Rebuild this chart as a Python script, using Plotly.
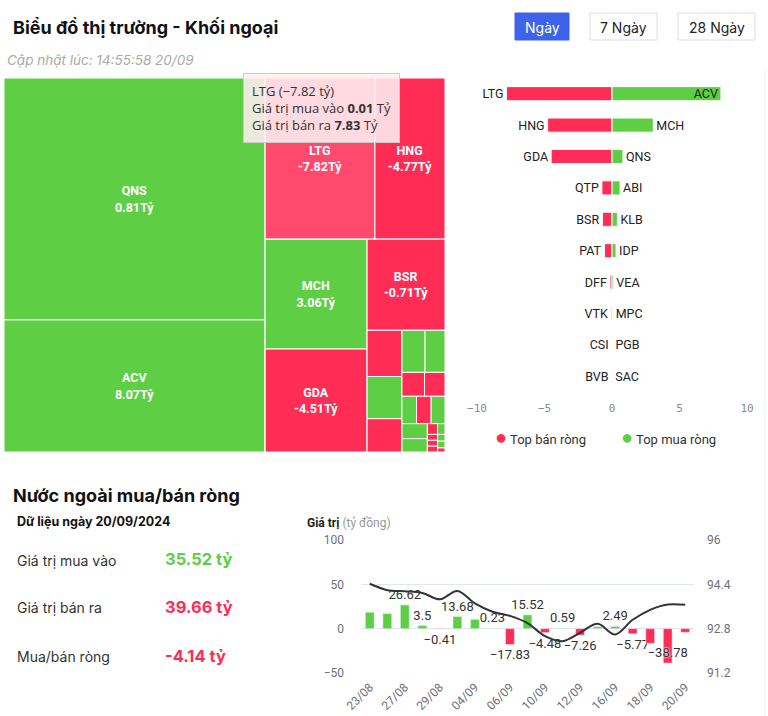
import plotly.graph_objects as go

W, H = 768, 716
GREEN = "#5ECF44"
RED = "#FF2D55"
RED_HOVER = "#FF4A6E"
TXT = "#222222"
GRID = "#E0E6F1"
AXIS_TXT = "#6E7079"
UI_FONT = "Inter"

def px(x):
    return x / W

def py(y):
    return 1 - y / H

# ---------------- Treemap data (net values in tỷ, sizes = tile weight) ----------------
tm_ids = ["QNS", "ACV", "G1", "LTG", "HNG", "G2", "MCH", "GDA", "G3", "BSR",
          "G4", "QTP", "ABI", "PAT",
          "G5", "KLB", "IDP", "DFF", "VTK", "VEA", "CSI", "MPC", "PGB", "SAC", "BVB",
          "s1", "s2", "s3", "s4", "s5", "s6", "s7"]
tm_labels = ["QNS", "ACV", "", "LTG", "HNG", "", "MCH", "GDA", "", "BSR",
             "", "QTP", "ABI", "PAT",
             "", "KLB", "IDP", "DFF", "VTK", "VEA", "CSI", "MPC", "PGB", "SAC", "BVB",
             "", "", "", "", "", "", ""]
tm_parents = ["", "", "", "G1", "G1", "G1", "G2", "G2", "G1", "G3",
              "G3", "G4", "G4", "G4",
              "G3", "G5", "G5", "G5", "G5", "G5", "G5", "G5", "G5", "G5", "G5",
              "G5", "G5", "G5", "G5", "G5", "G5", "G5"]
tm_size = [63.2, 34.5, 0, 17.7, 11.3, 0, 11.2, 10.5, 0, 7.1,
           0, 1.61, 1.47, 1.16,
           0, 0.97, 0.84, 0.54, 0.49, 0.40, 0.40, 0.38, 0.38, 0.34, 0.11,
           0.08, 0.06, 0.06, 0.06, 0.05, 0.05, 0.03]
tm_net = [0.81, 8.07, None, -7.82, -4.77, None, 3.06, -4.51, None, -0.71,
          None, -0.75, 0.60, -0.55,
          None, 0.40, 0.30, -0.15, -0.08, 0.10, -0.03, 0.05, 0.03, 0.02, -0.02,
          0.01, -0.01, -0.01, -0.01, 0.01, 0.01, -0.01]
tm_labelled = ["QNS", "ACV", "LTG", "HNG", "MCH", "GDA", "BSR"]
hovered = "LTG"

# ---------------- Top buy / sell bars ----------------
rank = [str(i) for i in range(1, 11)]
sell_names = ["LTG", "HNG", "GDA", "QTP", "BSR", "PAT", "DFF", "VTK", "CSI", "BVB"]
sell_vals = [-7.82, -4.77, -4.51, -0.75, -0.71, -0.55, -0.15, -0.08, -0.03, -0.02]
buy_names = ["ACV", "MCH", "QNS", "ABI", "KLB", "IDP", "VEA", "MPC", "PGB", "SAC"]
buy_vals = [8.07, 3.06, 0.81, 0.60, 0.40, 0.30, 0.10, 0.05, 0.03, 0.02]

# ---------------- Bottom chart ----------------
dates = ["23/08", "26/08", "27/08", "28/08", "29/08", "30/08", "04/09", "05/09", "06/09",
         "09/09", "10/09", "11/09", "12/09", "13/09", "16/09", "17/09", "18/09", "19/09", "20/09"]
net_vals = [18.5, 17.0, 26.62, 3.5, -0.41, 13.68, 10.4, 0.23, -17.83,
            15.52, -4.48, 0.59, -7.26, 2.1, 2.49, -5.77, -16.5, -38.78, -4.14]
index_vals = [94.42, 94.19, 94.15, 94.09, 93.86, 94.16, 93.71, 93.41, 93.26,
              93.0, 92.53, 92.35, 92.65, 92.98, 92.59, 93.12, 93.48, 93.67, 93.66]
label_shown = [False, False, True, True, True, True, False, True, True,
               True, True, True, True, False, True, True, False, True, False]
shown_dates = dates[0::2]

buy_total = "35.52 tỷ"
sell_total = "39.66 tỷ"
net_total = "-4.14 tỷ"

fig = go.Figure()

# Treemap
tm_colors = []
tm_text = []
for i, n in zip(tm_ids, tm_net):
    if n is None:
        tm_colors.append("white")
        tm_text.append("")
        continue
    if i == hovered:
        tm_colors.append(RED_HOVER)
    else:
        tm_colors.append(GREEN if n >= 0 else RED)
    tm_text.append(f"{i}<br>{n:.2f}Tỷ" if i in tm_labelled else "")

fig.add_trace(go.Treemap(
    ids=tm_ids, labels=tm_labels, parents=tm_parents, values=tm_size,
    branchvalues="remainder", sort=False,
    text=tm_text, textinfo="text", textposition="middle center",
    marker=dict(colors=tm_colors, line=dict(color="white", width=1),
                pad=dict(t=0, l=0, r=0, b=0)),
    tiling=dict(packing="squarify", squarifyratio=1.618, pad=0),
    pathbar=dict(visible=False),
    domain=dict(x=[px(4), px(445)], y=[py(452), py(78)]),
    insidetextfont=dict(color="white", size=12.5, family="Roboto", weight="bold"),
    hoverinfo="skip",
))

# Top bars
fig.add_trace(go.Bar(
    y=rank, x=sell_vals, orientation="h", width=0.45,
    marker=dict(color=RED, line=dict(color="white", width=1)),
    text=sell_names, textposition="outside", constraintext="none", cliponaxis=False,
    textangle=0,
    textfont=dict(color=TXT, size=12.5, family="Roboto"),
    xaxis="x", yaxis="y", showlegend=False, hoverinfo="skip",
))
buy_pos = ["inside" if v > 7 else "outside" for v in buy_vals]
fig.add_trace(go.Bar(
    y=rank, x=buy_vals, orientation="h", width=0.45,
    marker=dict(color=GREEN, line=dict(color="white", width=1)),
    text=buy_names, textposition=buy_pos, insidetextanchor="end",
    constraintext="none", cliponaxis=False, textangle=0,
    textfont=dict(color=TXT, size=12.5, family="Roboto"),
    insidetextfont=dict(color=TXT, size=12.5, family="Roboto"),
    xaxis="x", yaxis="y", showlegend=False, hoverinfo="skip",
))

# Bottom bars + line
def fmt(v):
    s = f"{v:g}"
    return s.replace("-", "−")

bar_text = [fmt(v) if s else "" for v, s in zip(net_vals, label_shown)]
bar_pos = ["inside" if v < -30 else "outside" for v in net_vals]
fig.add_trace(go.Bar(
    x=dates, y=net_vals, width=0.5,
    marker=dict(color=[GREEN if v >= 0 else RED for v in net_vals]),
    text=bar_text, textposition=bar_pos, insidetextanchor="end",
    constraintext="none", cliponaxis=False, textangle=0,
    textfont=dict(color="#333", size=13, family="Roboto"),
    insidetextfont=dict(color="#333", size=13, family="Roboto",
                        shadow="0px 0px 2px white, 0px 0px 2px white"),
    xaxis="x2", yaxis="y2", showlegend=False, hoverinfo="skip",
))
fig.add_trace(go.Scatter(
    x=dates, y=index_vals, mode="lines",
    line=dict(color="#333333", width=2, shape="spline", smoothing=1),
    xaxis="x2", yaxis="y3", showlegend=False, hoverinfo="skip",
))

fig.update_layout(
    width=W, height=H,
    margin=dict(l=0, r=0, t=0, b=0, autoexpand=False),
    paper_bgcolor="white", plot_bgcolor="white",
    barmode="overlay",
    font=dict(family="Roboto", color=TXT),
    xaxis=dict(domain=[px(477), px(747)], anchor="y", range=[-10, 10], dtick=5,
               showgrid=False, zeroline=False, showline=False,
               ticks="", ticklabelstandoff=8, automargin=False,
               tickfont=dict(size=11, color="#8a8a8a", family="DejaVu Sans Mono")),
    yaxis=dict(domain=[py(392), py(78)], anchor="x", type="category",
               autorange="reversed", showticklabels=False, showgrid=False,
               zeroline=False, showline=False, automargin=False),
    xaxis2=dict(domain=[px(361), px(694)], anchor="y2", type="category",
                tickvals=shown_dates, ticktext=shown_dates, tickangle=-45,
                showgrid=False, zeroline=False, showline=False, ticks="",
                ticklabelstandoff=4, automargin=False,
                tickfont=dict(size=12, color=AXIS_TXT)),
    yaxis2=dict(domain=[py(673), py(540)], anchor="x2", range=[-50, 100], dtick=50,
                showgrid=True, gridcolor=GRID, gridwidth=1, zeroline=False,
                showline=False, ticks="", ticklabelstandoff=16, automargin=False,
                tickfont=dict(size=12, color=AXIS_TXT)),
    yaxis3=dict(anchor="x2", overlaying="y2", side="right", range=[91.2, 96],
                tickvals=[91.2, 92.8, 94.4, 96], ticktext=["91.2", "92.8", "94.4", "96"],
                showgrid=False, zeroline=False, showline=False, ticks="",
                ticklabelstandoff=12, automargin=False,
                tickfont=dict(size=12, color=AXIS_TXT)),
)

ann = []
def add_text(x, y, text, size=13, color=TXT, xanchor="left", family=UI_FONT, **kw):
    ann.append(dict(x=px(x), y=py(y), xref="paper", yref="paper", text=text,
                    showarrow=False, xanchor=xanchor, yanchor="middle",
                    font=dict(size=size, color=color, family=family), **kw))

add_text(11, 27, "<b>Biểu đồ thị trường - Khối ngoại</b>", size=18, color="#111")
add_text(5, 60, "<i>Cập nhật lúc: 14:55:58 20/09</i>", size=13.5, color="#aaaaaa")

# buttons
shapes = []
buttons = [("Ngày", 515, 569, True), ("7 Ngày", 590, 657, False), ("28 Ngày", 678, 755, False)]
for label, x0, x1, active in buttons:
    shapes.append(dict(type="rect", xref="paper", yref="paper",
                       x0=px(x0), x1=px(x1), y0=py(40), y1=py(13),
                       fillcolor="#3D63E8" if active else "white",
                       line=dict(color="#3D63E8" if active else "#dddddd", width=1),
                       layer="below"))
    add_text((x0 + x1) / 2, 27, label, size=14, color="white" if active else TXT,
             xanchor="center")

# tooltip over LTG tile
ann.append(dict(x=px(243), y=py(73), xref="paper", yref="paper", showarrow=False,
                xanchor="left", yanchor="top", align="left",
                text="LTG (−7.82 tỷ)<br>Giá trị mua vào <b>0.01</b> Tỷ<br>Giá trị bán ra <b>7.83</b> Tỷ",
                font=dict(size=13, color="#333", family="Open Sans"),
                bgcolor="rgba(255,238,241,0.88)", bordercolor="#cccccc", borderwidth=1,
                borderpad=8))

# legend of top bars
add_text(493, 437, f"<span style='color:{RED};font-size:20px'>●</span> Top bán ròng", size=13, color="#333", family="Roboto")
add_text(619, 437, f"<span style='color:{GREEN};font-size:20px'>●</span> Top mua ròng", size=13, color="#333", family="Roboto")

# bottom-left section
add_text(11, 495, "<b>Nước ngoài mua/bán ròng</b>", size=18, color="#111")
add_text(15, 521, "<b>Dữ liệu ngày 20/09/2024</b>", size=12.5, color="#111")
add_text(15, 560, "Giá trị mua vào", size=14, color="#333")
add_text(15, 607, "Giá trị bán ra", size=14, color="#333")
add_text(15, 656, "Mua/bán ròng", size=14, color="#333")
add_text(163, 559, f"<b>{buy_total}</b>", size=16.5, color=GREEN)
add_text(163, 607, f"<b>{sell_total}</b>", size=16.5, color=RED)
add_text(163, 656, f"<b>{net_total}</b>", size=16.5, color=RED)

add_text(305, 523, "<b>Giá trị</b> <span style='color:#999999'>(tỷ đồng)</span>", size=12, color="#222", family="Roboto")

# right-edge separator
shapes.append(dict(type="line", xref="paper", yref="paper", x0=px(765), x1=px(765),
                   y0=0, y1=py(70), line=dict(color="#eeeeee", width=1)))

fig.update_layout(annotations=ann, shapes=shapes)
fig.write_html("out.html", config={"displayModeBar": False},
               post_script="document.body.style.margin='0px';document.body.style.padding='0px';")
